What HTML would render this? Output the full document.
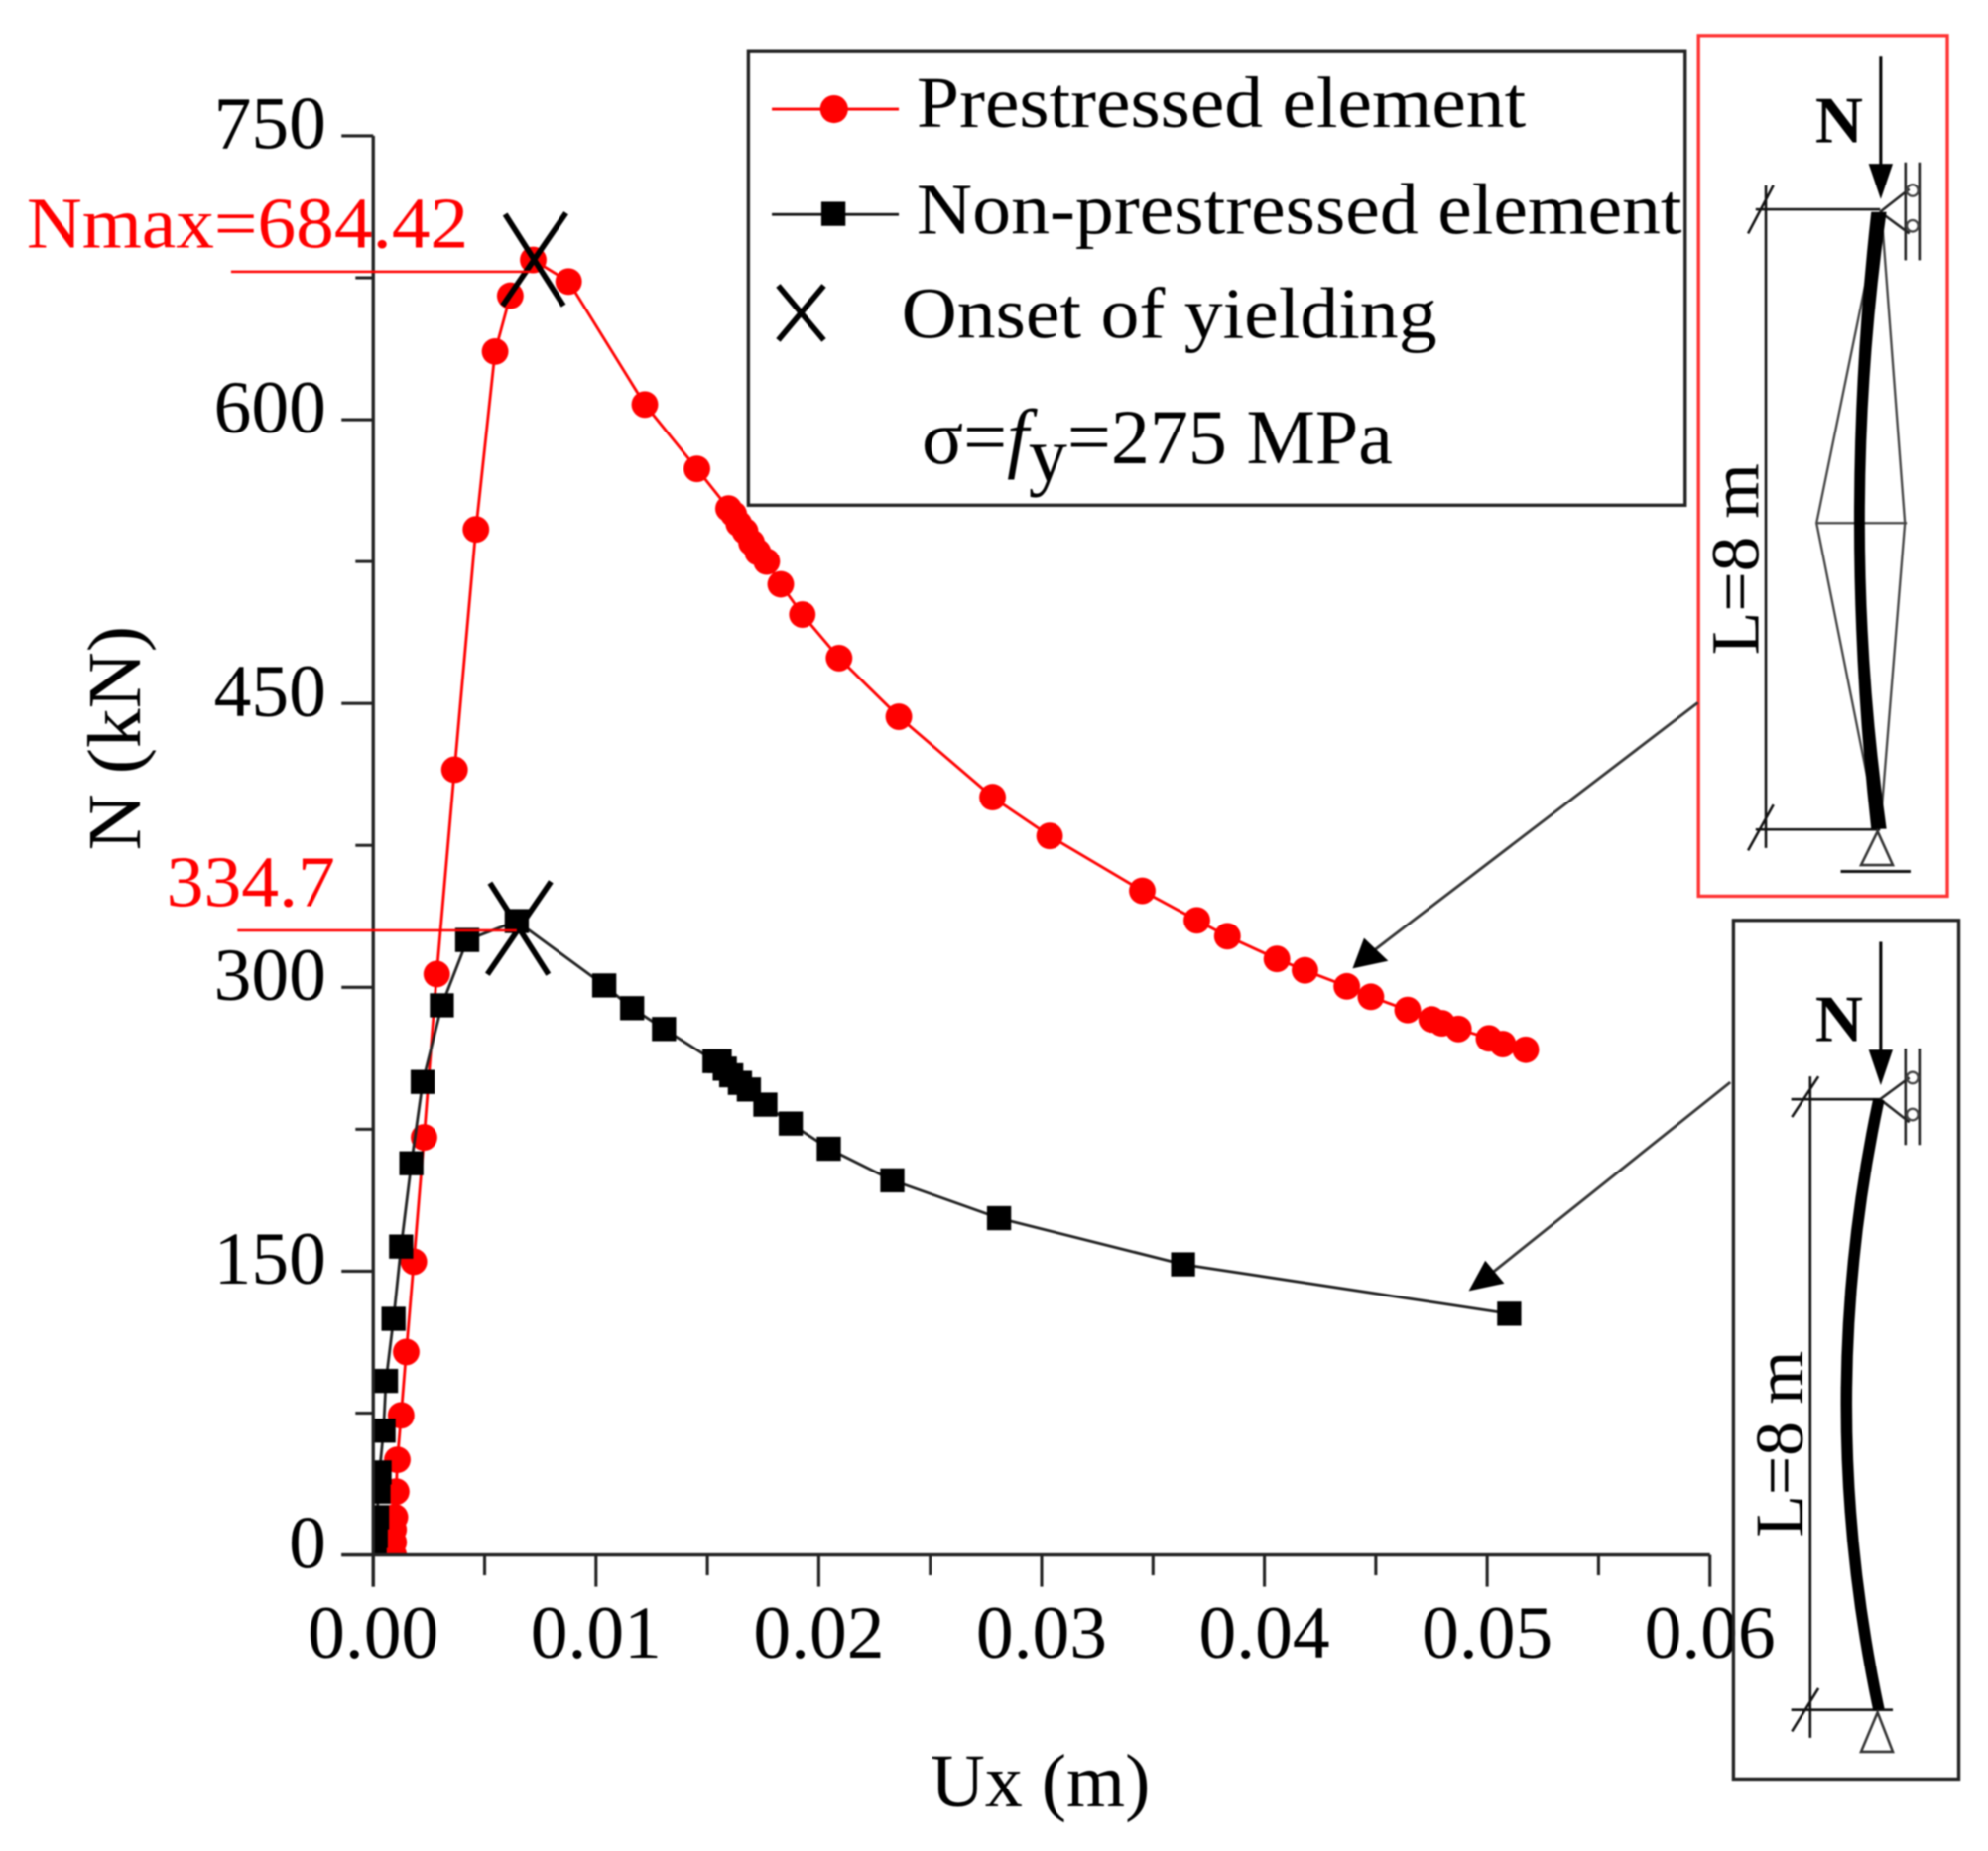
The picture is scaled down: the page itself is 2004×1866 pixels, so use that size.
<!DOCTYPE html>
<html>
<head>
<meta charset="utf-8">
<style>
html,body{margin:0;padding:0;background:#fff;}
svg{display:block;filter:blur(0.7px);}
text{font-family:"Liberation Serif","Noto Serif CJK SC",serif;}
</style>
</head>
<body>
<svg id="chart" xmlns="http://www.w3.org/2000/svg" width="2004" height="1866" viewBox="0 0 1566 1458.2">
<defs><clipPath id="plot-clip"><rect x="293" y="0" width="1060" height="1226"/></clipPath></defs>
<rect x="0" y="0" width="1566" height="1458.2" fill="#fff"/>
<g id="plot"></g>

<g>
<line x1="182" y1="214" x2="420" y2="214" stroke="#f00" stroke-width="2"/>
<text x="21" y="195" font-size="57" fill="#f00" textLength="348" lengthAdjust="spacingAndGlyphs">Nmax=684.42</text>
<line x1="187" y1="733" x2="407" y2="733" stroke="#f00" stroke-width="2"/>
<text x="131" y="714" font-size="57" fill="#f00" textLength="133" lengthAdjust="spacingAndGlyphs">334.7</text>
</g>

<g>
<rect x="589.5" y="40" width="738" height="358" fill="none" stroke="#222" stroke-width="2.6"/>
<line x1="608" y1="86" x2="708" y2="86" stroke="#f00" stroke-width="2.2"/>
<circle cx="657" cy="86" r="11" fill="#f00"/>
<text x="722" y="100" font-size="57" fill="#000" textLength="480" lengthAdjust="spacingAndGlyphs">Prestressed element</text>
<line x1="608" y1="169" x2="708" y2="169" stroke="#111" stroke-width="2.2"/>
<rect x="647" y="159" width="19" height="19" fill="#000"/>
<text x="722" y="184" font-size="57" fill="#000" textLength="603" lengthAdjust="spacingAndGlyphs">Non-prestressed element</text>
<path d="M613 225 L649 268 M649 225 L613 268" stroke="#000" stroke-width="4.4" fill="none"/>
<text x="710" y="266" font-size="57" fill="#000" textLength="422" lengthAdjust="spacingAndGlyphs">Onset of yielding</text>
<text x="726" y="365" font-size="61" fill="#000">σ=<tspan font-style="italic">f</tspan><tspan dy="14">y</tspan><tspan dy="-14">=275 MPa</tspan></text>
</g>

<g>
<rect x="1338" y="28" width="196" height="678" fill="#fff" stroke="#f33" stroke-width="2.6"/>
<text x="1430" y="112" font-size="52" font-weight="bold" fill="#000">N</text>
<line x1="1481.5" y1="44" x2="1481.5" y2="132" stroke="#000" stroke-width="2.4"/>
<polygon points="1472,129 1491,129 1481.5,157" fill="#000"/>
<path d="M1481 167 L1504 149 M1481 167 L1504 184 M1501 128 V205 M1512 128 V205" stroke="#222" stroke-width="2" fill="none"/>
<circle cx="1506.5" cy="150" r="4.5" fill="none" stroke="#444" stroke-width="1.8"/>
<circle cx="1506.5" cy="178" r="4.5" fill="none" stroke="#444" stroke-width="1.8"/>
<path d="M1383 165 H1481 M1383 653.5 H1481 M1391 146 V668 M1377 184 L1397 146 M1377 670 L1397 634" stroke="#111" stroke-width="2" fill="none"/>
<text transform="translate(1385,516) rotate(-90)" font-size="54" fill="#000" textLength="151" lengthAdjust="spacingAndGlyphs">L=8 m</text>
<path d="M1481 167 L1431 412 L1479 653 M1482 167 L1500.5 412 L1481 653 M1431 412 H1502" stroke="#444" stroke-width="1.8" fill="none"/>
<path d="M1474 167 L1486 167 Q1452 410 1486 653 L1474 653 Q1447 410 1474 167 Z" fill="#000"/>
<polygon points="1479,655 1466,681.5 1491,681.5" fill="#fff" stroke="#333" stroke-width="2"/>
<line x1="1450" y1="686.5" x2="1505" y2="686.5" stroke="#111" stroke-width="2.4"/>
</g>

<g>
<rect x="1365.5" y="725" width="177.5" height="676.5" fill="none" stroke="#222" stroke-width="2.6"/>
<text x="1430" y="820" font-size="52" font-weight="bold" fill="#000">N</text>
<line x1="1481.5" y1="742" x2="1481.5" y2="832" stroke="#000" stroke-width="2.4"/>
<polygon points="1472,827 1491,827 1481.5,855" fill="#000"/>
<path d="M1481 866 L1504 849 M1481 866 L1504 884 M1501 826 V902 M1512 826 V902" stroke="#222" stroke-width="2" fill="none"/>
<circle cx="1506.5" cy="849" r="4.5" fill="none" stroke="#444" stroke-width="1.8"/>
<circle cx="1506.5" cy="878" r="4.5" fill="none" stroke="#444" stroke-width="1.8"/>
<path d="M1411 866 H1481 M1411 1347 H1491 M1426 848 V1369 M1411.5 880 L1432.5 848 M1411.5 1364 L1432.5 1330" stroke="#111" stroke-width="2" fill="none"/>
<text transform="translate(1420,1211) rotate(-90)" font-size="54" fill="#000" textLength="147" lengthAdjust="spacingAndGlyphs">L=8 m</text>
<path d="M1480 866 Q1429 1106 1480 1347" fill="none" stroke="#000" stroke-width="9"/>
<polygon points="1479,1349 1466,1380 1491,1380" fill="#fff" stroke="#333" stroke-width="2"/>
</g>

<g>
<line x1="1337.5" y1="553.6" x2="1082" y2="749" stroke="#333" stroke-width="2.2"/>
<polygon points="1065.5,763 1074.5,739 1093.5,757" fill="#000"/>
<line x1="1363" y1="852.6" x2="1175" y2="1003" stroke="#333" stroke-width="2.2"/>
<polygon points="1157,1017 1170,993 1185,1011" fill="#000"/>
</g>

<text x="733" y="1423" font-size="60" fill="#000" textLength="173" lengthAdjust="spacingAndGlyphs">Ux (m)</text>
<text transform="translate(110,670) rotate(-90)" font-size="60" fill="#000" textLength="177" lengthAdjust="spacingAndGlyphs">N (kN)</text>
</svg>

<script>
const xTickValues = [0, 0.005, 0.01, 0.015, 0.02, 0.025, 0.03, 0.035, 0.04, 0.045, 0.05, 0.055, 0.06];
const xTickLabels = ["0.00", "", "0.01", "", "0.02", "", "0.03", "", "0.04", "", "0.05", "", "0.06"];
const yTickValues = [0, 75, 150, 225, 300, 375, 450, 525, 600, 675, 750];
const yTickLabels = ["0", "", "150", "", "300", "", "450", "", "600", "", "750"];

const prestressedUx = [0.00091,0.00091,0.00091,0.00097,0.00103,0.00108,0.00125,0.00148,0.00182,0.00228,0.00285,0.00365,0.00461,0.00547,0.00615,0.00718,0.00877,0.01219,0.01453,0.01595,0.01618,0.01641,0.01669,0.01698,0.01726,0.01766,0.01829,0.01926,0.02091,0.02359,0.0278,0.03036,0.03452,0.03697,0.03834,0.04056,0.04182,0.0437,0.04478,0.04643,0.04751,0.04797,0.04871,0.05008,0.0507,0.05173];
const prestressedN = [0,6.7,13.4,20,33.5,50.3,73.8,107.3,155,220.7,307,415,542,636,665.5,684.4,673,608,574,553,550,545,541,535,530,525,513,497,474,443,400.5,380,351,335.4,327,315,309,300.5,295,288,283,281,278,273,270,267];

const nonPrestressedUx = [0.00006,0.00011,0.00017,0.00023,0.00028,0.00046,0.00057,0.00091,0.00125,0.00171,0.00222,0.00308,0.00422,0.00644,0.01037,0.01162,0.01305,0.01532,0.01555,0.01578,0.01607,0.01646,0.01686,0.0176,0.01874,0.02045,0.0233,0.02809,0.03635,0.05099];
const nonPrestressedN = [0,10,20,33.5,43.6,65.7,92,124.8,163,207,250,290.5,325,335,301,289,278,261,261,257,253.5,249.5,246,238,228,214.7,198,178,153.6,127.5];

const yieldUx = [0.00723, 0.00655];
const yieldN = [684.4, 331];

const SVG_NS = "http://www.w3.org/2000/svg";
const plot = document.getElementById("plot");
const X0 = 294, XSPAN = 1053, XMAX = 0.06;
const Y0 = 1225, YSPAN = 1118, YMAX = 750;
function xScale(v) { return X0 + v / XMAX * XSPAN; }
function yScale(v) { return Y0 - v / YMAX * YSPAN; }
function make(tag, props, parent) {
  const el = document.createElementNS(SVG_NS, tag);
  for (const k in props) el.setAttribute(k, props[k]);
  (parent || plot).appendChild(el);
  return el;
}

function pathFrom(xs, ys) {
  return xs.map(function (x, i) { return xScale(x) + "," + yScale(ys[i]); }).join(" ");
}

// series are clipped to the plot rectangle, as in the reference
const seriesGroup = make("g", {"clip-path": "url(#plot-clip)"});



// prestressed series (drawn first; black series sits above it)
const redLine = make("polyline", {points: pathFrom(prestressedUx, prestressedN), fill: "none", stroke: "#f00", "stroke-width": 2.2}, seriesGroup);


prestressedUx.forEach(function (x, i) {
  const m = make("circle", {cx: xScale(x), cy: yScale(prestressedN[i]), r: 10.5, fill: "#f00"}, seriesGroup);
  
  
});

// non-prestressed series
const blackLine = make("polyline", {points: pathFrom(nonPrestressedUx, nonPrestressedN), fill: "none", stroke: "#222", "stroke-width": 2.2}, seriesGroup);


nonPrestressedUx.forEach(function (x, i) {
  const m = make("rect", {x: xScale(x) - 9.5, y: yScale(nonPrestressedN[i]) - 9.5, width: 19, height: 19, fill: "#000"}, seriesGroup);
  
  
});

// axes
const axisColor = "#222";
const xAxisLine = make("line", {x1: X0 - 25, y1: Y0, x2: X0 + XSPAN, y2: Y0, stroke: axisColor, "stroke-width": 2.6});


const yAxisLine = make("line", {x1: X0, y1: yScale(YMAX), x2: X0, y2: Y0 + 25, stroke: axisColor, "stroke-width": 2.6});



xTickValues.forEach(function (v, i) {
  const major = xTickLabels[i] !== "";
  const tick = make("line", {x1: xScale(v), y1: Y0, x2: xScale(v), y2: Y0 + (major ? 25 : 16), stroke: axisColor, "stroke-width": 2.4});
  
  
  if (major) {
    const label = make("text", {x: xScale(v), y: Y0 + 81, "font-size": 59, "text-anchor": "middle", fill: "#000"});
    
    
    label.textContent = xTickLabels[i];
  }
});
yTickValues.forEach(function (v, i) {
  const major = yTickLabels[i] !== "";
  const tick = make("line", {x1: X0 - (major ? 25 : 14), y1: yScale(v), x2: X0, y2: yScale(v), stroke: axisColor, "stroke-width": 2.4});
  
  
  if (major) {
    const label = make("text", {x: 257, y: yScale(v) + 10, "font-size": 59, "text-anchor": "end", fill: "#000"});
    
    
    label.textContent = yTickLabels[i];
  }
});

// onset-of-yielding crosses
yieldUx.forEach(function (x, i) {
  const cx = xScale(x), cy = yScale(yieldN[i]);
  const c = make("path", {d: "M" + (cx - 23) + " " + (cy - 36) + " L" + (cx + 23) + " " + (cy + 36) + " M" + (cx + 25) + " " + (cy - 37) + " L" + (cx - 25) + " " + (cy + 36), stroke: "#000", "stroke-width": 4.4, fill: "none"});
  
  
});
</script>
</body>
</html>
